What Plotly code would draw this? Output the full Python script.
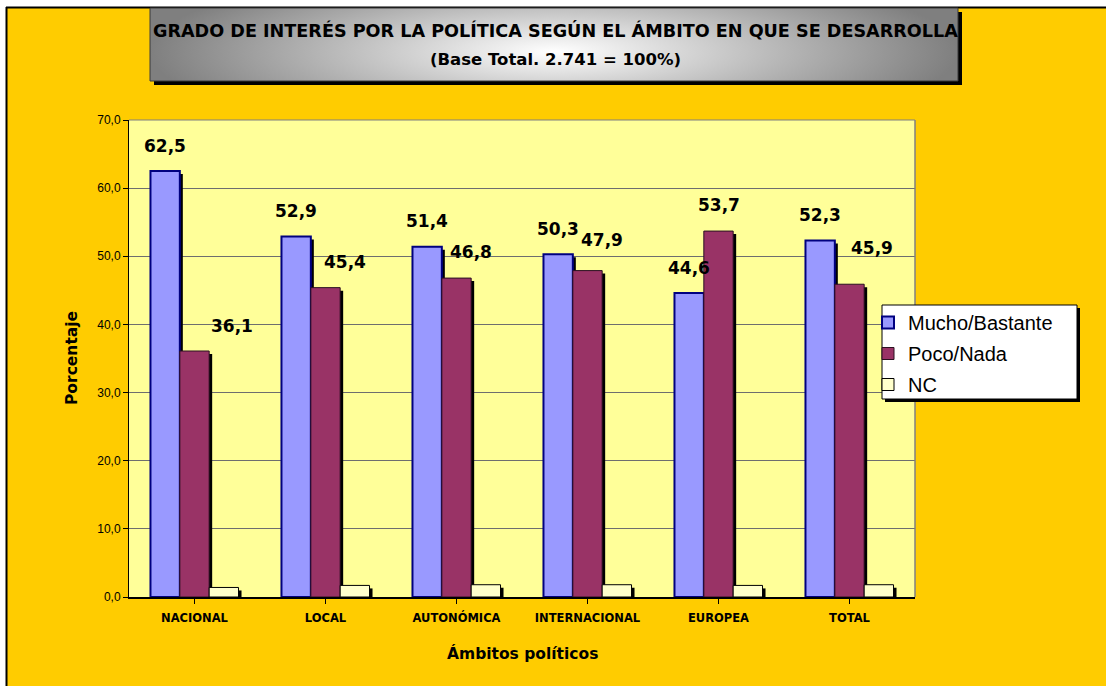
import base64
import plotly.graph_objects as go

# --- data -------------------------------------------------------------
CATEGORIES = ["NACIONAL", "LOCAL", "AUTONÓMICA", "INTERNACIONAL", "EUROPEA", "TOTAL"]
MUCHO_BASTANTE = [62.5, 52.9, 51.4, 50.3, 44.6, 52.3]
POCO_NADA = [36.1, 45.4, 46.8, 47.9, 53.7, 45.9]
NC = [1.4, 1.7, 1.8, 1.8, 1.7, 1.8]
SERIES_NAMES = ["Mucho/Bastante", "Poco/Nada", "NC"]
Y_TICKS = [0, 10, 20, 30, 40, 50, 60, 70]

# --- geometry ---------------------------------------------------------
W, H = 1106, 686
PL, PR, PT, PB = 129, 915, 120, 597          # plot area in pixels
Y_MAX = 70
PX_PER_UNIT = (PB - PT) / Y_MAX
CAT_PX = (PR - PL) / len(CATEGORIES)


def fx(p):
    """pixel x -> paper x"""
    return (p - PL) / (PR - PL)


def fy(p):
    """pixel y -> paper y"""
    return (PB - p) / (PB - PT)


BW = 0.224                      # bar width in category units
OFFSETS = [-1.5 * BW, -0.5 * BW, 0.5 * BW]
SH_DX = 3 / CAT_PX              # drop shadow offset (3 px)
SH_DY = 3 / PX_PER_UNIT

COMIC = "Comic Sans MS, DejaVu Sans, sans-serif"
ARIAL = "Arial, Liberation Sans, sans-serif"

fills = ["#9999FF", "#993366", "#FFFFCC"]
edges = [("#000080", 2), ("#2a1020", 1), ("#000000", 1)]
values = [MUCHO_BASTANTE, POCO_NADA, NC]
xs = list(range(len(CATEGORIES)))

fig = go.Figure()

# drop shadows first
for vals, off in zip(values, OFFSETS):
    fig.add_trace(go.Bar(
        x=xs, y=[max(v - SH_DY, 0) for v in vals], width=BW, offset=off + SH_DX,
        marker=dict(color="#000000", line=dict(width=0)),
        showlegend=False, hoverinfo="skip"))

# series bars
for i, (vals, off) in enumerate(zip(values, OFFSETS)):
    fig.add_trace(go.Bar(
        x=xs, y=vals, width=BW, offset=off, name=SERIES_NAMES[i],
        legendgroup=SERIES_NAMES[i],
        marker=dict(color=fills[i], line=dict(color=edges[i][0], width=edges[i][1]))))

# value labels (pixel nudges per label)
MUCHO_SHIFT = [(0, 25), (0, 26), (0, 26), (0, 25), (0, 25), (0, 26)]
POCO_SHIFT = [(37, 25), (19, 26), (14, 26), (14, 31), (0, 26), (22, 36)]
annotations = []
for vals, off, shifts in ((MUCHO_BASTANTE, OFFSETS[0], MUCHO_SHIFT),
                          (POCO_NADA, OFFSETS[1], POCO_SHIFT)):
    for i, v in enumerate(vals):
        annotations.append(dict(
            x=i + off + BW / 2, y=v, xref="x", yref="y",
            text=f"{v:.1f}".replace(".", ","), showarrow=False,
            xshift=shifts[i][0], yshift=shifts[i][1],
            xanchor="center", yanchor="middle",
            font=dict(family=COMIC, size=17, color="#000000", weight="bold")))

# titles
annotations += [
    dict(x=fx(555), y=fy(30), xref="paper", yref="paper", showarrow=False,
         xanchor="center", yanchor="middle",
         text="GRADO DE INTERÉS POR LA POLÍTICA SEGÚN EL ÁMBITO EN QUE SE DESARROLLA",
         font=dict(family=COMIC, size=17.6, color="#000000", weight="bold")),
    dict(x=fx(555), y=fy(59), xref="paper", yref="paper", showarrow=False,
         xanchor="center", yanchor="middle",
         text="(Base Total. 2.741 = 100%)",
         font=dict(family=COMIC, size=16.5, color="#000000", weight="bold")),
    dict(x=fx(72), y=fy(358), xref="paper", yref="paper", showarrow=False,
         xanchor="center", yanchor="middle",
         text="Porcentaje", textangle=-90,
         font=dict(family=COMIC, size=15.5, color="#000000", weight="bold")),
    dict(x=fx(522), y=fy(653), xref="paper", yref="paper", showarrow=False,
         xanchor="center", yanchor="middle",
         text="Ámbitos políticos",
         font=dict(family=COMIC, size=15.5, color="#000000", weight="bold")),
]

# title box gradient
TB = (150, 8, 958, 81)
tw, th = TB[2] - TB[0], TB[3] - TB[1]
svg = (
    f'<svg xmlns="http://www.w3.org/2000/svg" width="{tw}" height="{th}" '
    f'viewBox="0 0 {tw} {th}" preserveAspectRatio="none"><defs>'
    f'<radialGradient id="g" gradientUnits="userSpaceOnUse" cx="{tw/2}" cy="{th*0.6}" r="{tw/2}" '
    f'gradientTransform="translate({tw/2} {th*0.6}) scale(1 0.22) translate({-tw/2} {-th*0.6})">'
    f'<stop offset="0" stop-color="#ffffff"/><stop offset="1" stop-color="#7f7f7f"/>'
    f'</radialGradient></defs><rect width="{tw}" height="{th}" fill="url(#g)"/></svg>'
)
svg_uri = "data:image/svg+xml;base64," + base64.b64encode(svg.encode()).decode()

shapes = [
    # white margin outside the chart frame
    dict(type="rect", xref="paper", yref="paper", x0=fx(0), x1=fx(W), y0=fy(0), y1=fy(7),
         fillcolor="#FFFFFF", line=dict(width=0), layer="below"),
    dict(type="rect", xref="paper", yref="paper", x0=fx(0), x1=fx(6), y0=fy(0), y1=fy(H),
         fillcolor="#FFFFFF", line=dict(width=0), layer="below"),
    dict(type="line", xref="paper", yref="paper", x0=fx(6), x1=fx(W), y0=fy(7.5), y1=fy(7.5),
         line=dict(color="#000000", width=2), layer="below"),
    dict(type="line", xref="paper", yref="paper", x0=fx(6.5), x1=fx(6.5), y0=fy(7), y1=fy(H),
         line=dict(color="#000000", width=2), layer="below"),
    # title box shadow
    dict(type="rect", xref="paper", yref="paper", x0=fx(TB[0] + 4), x1=fx(TB[2] + 4),
         y0=fy(TB[1] + 4), y1=fy(TB[3] + 4),
         fillcolor="#000000", line=dict(width=0), layer="below"),
    # title box outline
    dict(type="rect", xref="paper", yref="paper", x0=fx(TB[0]), x1=fx(TB[2]),
         y0=fy(TB[1]), y1=fy(TB[3]),
         fillcolor="rgba(0,0,0,0)", line=dict(color="#3a3a3a", width=1), layer="above"),
    # plot area top / right border
    dict(type="line", xref="paper", yref="paper", x0=0, x1=1, y0=1, y1=1,
         line=dict(color="#808080", width=1), layer="above"),
    dict(type="line", xref="paper", yref="paper", x0=1, x1=1, y0=0, y1=1,
         line=dict(color="#808080", width=1.5), layer="above"),
    # legend box with shadow
    dict(type="rect", xref="paper", yref="paper", x0=fx(885), x1=fx(1080),
         y0=fy(308), y1=fy(402), fillcolor="#000000", line=dict(width=0), layer="above"),
    dict(type="rect", xref="paper", yref="paper", x0=fx(882), x1=fx(1077),
         y0=fy(305), y1=fy(399), fillcolor="#FFFFFF",
         line=dict(color="#000000", width=1), layer="above"),
]

fig.update_layout(
    width=W, height=H, autosize=False,
    margin=dict(l=PL, r=W - PR, t=PT, b=H - PB, pad=0),
    paper_bgcolor="#FFCC00", plot_bgcolor="#FFFF99",
    barmode="overlay", separators=",.",
    showlegend=True,
    legend=dict(x=fx(868), y=fy(303), xanchor="left", yanchor="top",
                bgcolor="rgba(0,0,0,0)", borderwidth=0, tracegroupgap=2,
                font=dict(family=ARIAL, size=20, color="#000000")),
    xaxis=dict(tickmode="array", tickvals=xs, ticktext=CATEGORIES,
               range=[-0.5, len(CATEGORIES) - 0.5],
               showline=True, linecolor="#000000", linewidth=1.5,
               ticks="outside", ticklen=5, tickcolor="#000000", tickson="boundaries",
               showgrid=False, zeroline=False, ticklabelstandoff=4,
               tickfont=dict(family=COMIC, size=11.5, color="#000000", weight="bold")),
    yaxis=dict(range=[0, Y_MAX], tickvals=Y_TICKS, tickformat=".1f",
               showline=True, linecolor="#000000", linewidth=1,
               ticks="outside", ticklen=5, tickcolor="#000000",
               showgrid=True, gridcolor="#6e6e6e", gridwidth=1, zeroline=False,
               tickfont=dict(family=ARIAL, size=12, color="#000000")),
    annotations=annotations,
    shapes=shapes,
    images=[dict(source=svg_uri, xref="paper", yref="paper",
                 x=fx(TB[0]), y=fy(TB[1]), sizex=tw / (PR - PL), sizey=th / (PB - PT),
                 xanchor="left", yanchor="top", sizing="stretch", layer="above")],
)

fig.write_html("out.html")
